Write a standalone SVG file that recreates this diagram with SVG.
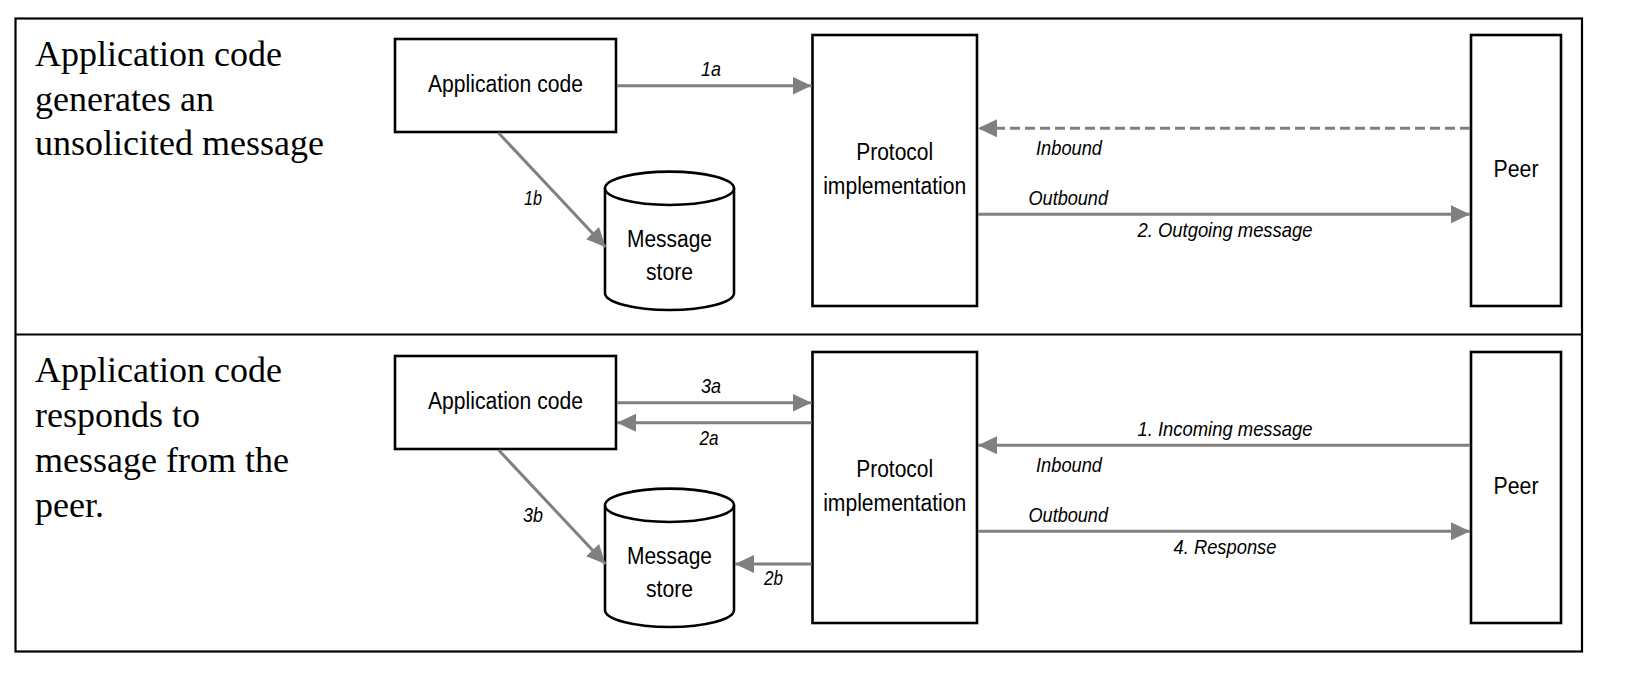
<svg xmlns="http://www.w3.org/2000/svg" width="1644" height="689" viewBox="0 0 1644 689">
<style>
.frame{fill:none;stroke:#000;stroke-width:2.2}
.box{fill:#fff;stroke:#000;stroke-width:2.6}
.side{font-family:"Liberation Serif","DejaVu Serif",serif;font-size:36px;fill:#000}
.nt{font-family:"Liberation Sans",Arial,sans-serif;font-size:23px;fill:#000;text-anchor:middle}
.lb{font-family:"Liberation Sans",Arial,sans-serif;font-size:21px;font-style:italic;fill:#000}
.c{text-anchor:middle}
.arr{fill:none;stroke:#808080;stroke-width:3;marker-end:url(#ah)}
.dash{stroke-dasharray:10,5}
</style>
<defs>
<marker id="ah" markerUnits="userSpaceOnUse" markerWidth="20" markerHeight="18" refX="19" refY="9" orient="auto">
<path d="M0,0 L19,9 L0,18 z" fill="#808080"/>
</marker>
</defs>
<rect width="1644" height="689" fill="#fff"/>
<g id="frame">
<rect class="frame" x="15.5" y="18.5" width="1566.5" height="633"/>
<line class="frame" x1="15.5" y1="334.5" x2="1582" y2="334.5"/>
</g>
<g id="caption-top">
<text class="side" x="35" y="66">Application code</text>
<text class="side" x="35" y="110.5">generates an</text>
<text class="side" x="35" y="155">unsolicited message</text>
</g>
<g id="caption-bottom">
<text class="side" x="35" y="382">Application code</text>
<text class="side" x="35" y="427">responds to</text>
<text class="side" x="35" y="472">message from the</text>
<text class="side" x="35" y="517">peer.</text>
</g>
<g id="app1">
<rect class="box" x="395" y="39" width="221" height="93"/>
<text class="nt" x="505.5" y="92" textLength="155" lengthAdjust="spacingAndGlyphs">Application code</text>
</g>
<g id="store1">
<path class="box" d="M605,188.3 L605,293 A64.5,17 0 0 0 734,293 L734,188.3"/>
<ellipse class="box" cx="669.5" cy="188.3" rx="64.5" ry="16.7"/>
<text class="nt" x="669.5" y="247" textLength="85" lengthAdjust="spacingAndGlyphs">Message</text>
<text class="nt" x="669.5" y="280" textLength="47" lengthAdjust="spacingAndGlyphs">store</text>
</g>
<g id="proto1">
<rect class="box" x="812.5" y="35" width="164.5" height="271"/>
<text class="nt" x="894.7" y="159.5" textLength="77" lengthAdjust="spacingAndGlyphs">Protocol</text>
<text class="nt" x="894.7" y="194" textLength="143" lengthAdjust="spacingAndGlyphs">implementation</text>
</g>
<g id="peer1">
<rect class="box" x="1471" y="35" width="90" height="271"/>
<text class="nt" x="1516" y="177" textLength="45" lengthAdjust="spacingAndGlyphs">Peer</text>
</g>
<g id="app2">
<rect class="box" x="395" y="356" width="221" height="93"/>
<text class="nt" x="505.5" y="409" textLength="155" lengthAdjust="spacingAndGlyphs">Application code</text>
</g>
<g id="store2">
<path class="box" d="M605,505.3 L605,610 A64.5,17 0 0 0 734,610 L734,505.3"/>
<ellipse class="box" cx="669.5" cy="505.3" rx="64.5" ry="16.7"/>
<text class="nt" x="669.5" y="564" textLength="85" lengthAdjust="spacingAndGlyphs">Message</text>
<text class="nt" x="669.5" y="597" textLength="47" lengthAdjust="spacingAndGlyphs">store</text>
</g>
<g id="proto2">
<rect class="box" x="812.5" y="352" width="164.5" height="271"/>
<text class="nt" x="894.7" y="476.5" textLength="77" lengthAdjust="spacingAndGlyphs">Protocol</text>
<text class="nt" x="894.7" y="511" textLength="143" lengthAdjust="spacingAndGlyphs">implementation</text>
</g>
<g id="peer2">
<rect class="box" x="1471" y="352" width="90" height="271"/>
<text class="nt" x="1516" y="494" textLength="45" lengthAdjust="spacingAndGlyphs">Peer</text>
</g>
<g id="connectors">
<line class="arr" x1="617" y1="85.7" x2="811.5" y2="85.7"/>
<line class="arr" x1="498.6" y1="133" x2="605.5" y2="247"/>
<line class="arr dash" x1="1470" y1="128.3" x2="978" y2="128.3"/>
<line class="arr" x1="978" y1="214.3" x2="1470" y2="214.3"/>
<line class="arr" x1="617" y1="402.7" x2="811.5" y2="402.7"/>
<line class="arr" x1="811.5" y1="422.7" x2="617" y2="422.7"/>
<line class="arr" x1="498.6" y1="450" x2="605.5" y2="564"/>
<line class="arr" x1="811.5" y1="564" x2="735" y2="564"/>
<line class="arr" x1="1470" y1="445.3" x2="978" y2="445.3"/>
<line class="arr" x1="978" y1="531.3" x2="1470" y2="531.3"/>
</g>
<g id="labels">
<text class="lb c" x="711" y="76" textLength="20" lengthAdjust="spacingAndGlyphs">1a</text>
<text class="lb c" x="533" y="205" textLength="18" lengthAdjust="spacingAndGlyphs">1b</text>
<text class="lb" x="1036" y="155" textLength="66" lengthAdjust="spacingAndGlyphs">Inbound</text>
<text class="lb" x="1028.5" y="205" textLength="79.5" lengthAdjust="spacingAndGlyphs">Outbound</text>
<text class="lb c" x="1225" y="236.7" textLength="175" lengthAdjust="spacingAndGlyphs">2. Outgoing message</text>
<text class="lb c" x="711" y="393" textLength="20" lengthAdjust="spacingAndGlyphs">3a</text>
<text class="lb c" x="709" y="445" textLength="19" lengthAdjust="spacingAndGlyphs">2a</text>
<text class="lb c" x="533" y="522" textLength="20" lengthAdjust="spacingAndGlyphs">3b</text>
<text class="lb c" x="773.4" y="585" textLength="19" lengthAdjust="spacingAndGlyphs">2b</text>
<text class="lb c" x="1225" y="436" textLength="175" lengthAdjust="spacingAndGlyphs">1. Incoming message</text>
<text class="lb" x="1036" y="472" textLength="66" lengthAdjust="spacingAndGlyphs">Inbound</text>
<text class="lb" x="1028.5" y="522" textLength="79.5" lengthAdjust="spacingAndGlyphs">Outbound</text>
<text class="lb c" x="1225" y="554" textLength="103" lengthAdjust="spacingAndGlyphs">4. Response</text>
</g>
</svg>
